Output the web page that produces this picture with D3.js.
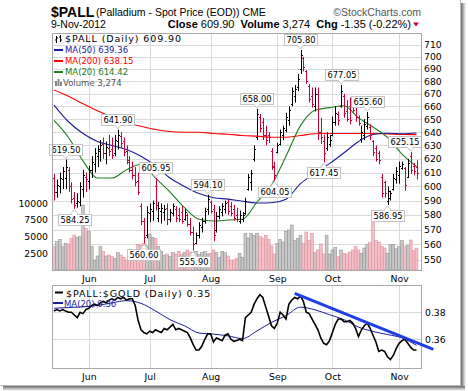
<!DOCTYPE html>
<html>
<head>
<meta charset="utf-8">
<script src="https://cdn.jsdelivr.net/npm/d3@7"></script>
<style>
    body { margin: 0; background: #fff; }
    svg text { font-family: "DejaVu Sans", Verdana, sans-serif; }
    .hdr { font-family: "Liberation Sans", Arial, sans-serif !important; }
</style>
</head>
<body>
<div id="chart"></div>
<script>
// ---- data (one entry per trading day, 15-May-2012 .. 9-Nov-2012) ----
const opens = [606,596,600,605,606,612,600,592,588,589,598,607,604,612,616,622,626,631,624,628,
    627,624,633,637,633,626,618,612,608,604,586,576,566,581,583,600,578,583,582,585,
    577,581,584,580,582,577,580,574,568,561,566,572,576,584,589,584,570,579,582,584,
    589,586,584,580,576,577,581,598,603,620,636,652,648,638,638,626,614,625,631,638,
    642,649,662,668,675,690,699,688,676,668,660,670,640,633,628,631,638,648,654,660,
    668,656,660,662,660,652,635,638,645,644,633,628,624,607,603,590,592,598,605,608,
    613,613,607,622,615,614];
const highs = [609,605,610,614,619.5,614,603,596,595,603,612,610,615,622,628,630,634,636,633,638,
    636,638,641.9,640,636,630,622,618,614,610,588,578,586,588,590,605.95,589,588,587,588,
    584,588,586,585,586,584,581,578,572,568,575,578,585,594.1,590,587,582,586,588,590,
    591,589,587,585,583,582,592,609,612,630,658,654,651,645,640,628,618,632,642,645,
    655,660,675,677,686,705.8,700,689,678,675,675,675,651,638,640,638,652,660,656,677.05,
    670,665,667,665,665,653,645,650,655.6,646,634,630,626,609,604,600,597,609,614,618,
    618,614,620,625.15,617,619];
const lows = [590,592,595,598,598,596,588,584.25,585,586,592,596,598,606,610,614,618,620,616,622,
    620,622,627,628,622,616,610,605,600,594,573,560.6,564,575,576,583,575,574,576,573,
    575,579,575,575,574,576,572,566,555.9,560,564,568,574,580,581,562,568,577,579,581,
    580,579,576,575,574,575,580,597,597,618,634,640,634,630,632,612,604.05,624,630,634,
    640,645,660,663,672,686,688,678,663,659,656,634,631,617.45,626,629,637,645,645,659,
    651,648,646,655,648,645,632,634,642,634,622,618,616,592,592,586.95,590,597,602,602,
    612,597,606,609,608,605];
const closes = [596,601,606,611,614,600,591,587,590,600,608,605,612,618,624,627,630,624,629,626,
    623,634,638,632,625,619,612,608,603,596,576,565,582,584,588,587,585,585,584,577,
    582,586,578,577,576,582,574,568,560,566,573,576,583,591,583,566,579,584,586,588,
    583,581,578,577,580,580,590,607,610,627,654,643,638,634,636,615,608,630,640,643,
    652,657,672,674,682,702,692,680,666,662,670,640,636,624,636,634,648,655,649,672,
    655,650,649,657,652,647,640,646,652,638,625,620,619,595,595,597,595,606,611,615,
    616,601,617,612,611,609.9];
const volumes = [3500,4250,4600,3500,4000,3900,4750,5250,4900,5000,9750,6250,5750,3500,1500,2100,3500,2750,2100,2250,
    2000,1750,2600,2250,1900,1500,2100,2000,2300,3800,3750,4000,3600,5400,4900,4750,3500,2800,2200,2400,
    2000,2600,2400,2800,2300,2600,3000,2700,2500,2800,2300,2600,2800,2400,2500,3000,2600,1900,2800,2600,
    2100,1500,1500,1700,2500,1900,5500,4800,5500,5200,5500,5000,4800,5200,4600,3600,2400,4000,4600,4200,
    5800,6000,6750,4400,4700,5200,4000,5700,4400,5500,2600,3000,3900,2400,5200,2400,3000,3400,2000,3000,
    2500,2400,2700,3000,3500,3000,2500,3300,3800,4100,7300,4400,4200,3500,3300,2500,3800,3800,3200,3500,
    4400,3500,3700,4500,2900,3274];
// $PALL:$GOLD ratio
const ratio = [0.381,0.382,0.381,0.382,0.381,0.380,0.380,0.378,0.376,0.380,0.379,0.382,0.383,0.385,0.386,0.385,0.387,0.388,0.387,0.389,
    0.390,0.389,0.391,0.390,0.391,0.389,0.390,0.390,0.385,0.374,0.367,0.365,0.364,0.366,0.365,0.367,0.366,0.365,0.368,0.367,
    0.369,0.371,0.367,0.368,0.367,0.366,0.365,0.361,0.356,0.352,0.352,0.355,0.360,0.364,0.364,0.358,0.361,0.360,0.359,0.363,
    0.364,0.360,0.3585,0.359,0.360,0.359,0.376,0.378,0.380,0.386,0.390,0.393,0.391,0.384,0.377,0.370,0.368,0.372,0.380,0.378,
    0.375,0.386,0.389,0.391,0.390,0.392,0.388,0.380,0.379,0.375,0.371,0.367,0.361,0.357,0.356,0.359,0.365,0.371,0.375,0.375,
    0.373,0.373,0.374,0.372,0.368,0.362,0.367,0.370,0.372,0.368,0.363,0.358,0.351,0.352,0.351,0.347,0.345,0.348,0.353,0.357,
    0.359,0.360,0.357,0.354,0.352,0.352];

// moving averages, sampled every 5 bars
const maIdx = [0,5,10,15,20,25,30,35,40,45,50,55,60,65,70,75,80,85,90,95,100,105,110,115,120,125];
const ma50 = [661,648,639,633,630,627,622,615,606,600,595,592,591,589.5,588.3,588.5,591,602,609.5,616.5,624.5,633,638.3,639.2,638.8,639.36];
const ma200 = [673,668,662,656.5,651.5,647,644.5,642,640.5,640,640,639,638.5,637.5,637,636.2,636.2,637.5,638.8,639,639,639,639,638.7,638.3,638.15];
const ma20 = [649,636,618.5,606,606,612,616,606,596,585,577,575.8,576.5,577,589,601,622,645,657,659,660.5,651,644,636,623.5,614.42];
const ratioMa20 = [0.383,0.3835,0.384,0.385,0.387,0.3886,0.3866,0.381,0.3745,0.370,0.3646,0.3638,0.3625,0.3605,0.3662,0.3725,0.3775,0.3838,0.3818,0.3782,0.3745,0.369,0.3658,0.3635,0.361,0.3555];

// hand-drawn trend line on the ratio panel
const trendIdx = [83, 130.8];
const trendVal = [0.394, 0.3525];

// annotated highs and lows
const calloutIdx = [4,22,35,53,70,85,99,108,123, 7,31,48,76,93,115];
const calloutVal = [619.50,641.90,605.95,594.10,658.00,705.80,677.05,655.60,625.15, 584.25,560.60,555.90,604.05,617.45,586.95];
const calloutHigh = [1,1,1,1,1,1,1,1,1, 0,0,0,0,0,0];

const monthLabels = ['Jun','Jul','Aug','Sep','Oct','Nov'];
const monthStarts = [12,33,54,77,96,119];
const priceTicks = [550,560,570,580,590,600,610,620,630,640,650,660,670,680,690,700,710];
const volTicks = [2500,5000,7500,10000];
const ratioTicks = [0.36,0.38];

const COLORS = {
    up: '#000000',
    down: '#cc0033',
    volUp: '#bebebe', volUpEdge: '#8c8c8c',
    volDown: '#f2b5bd', volDownEdge: '#d98896',
    ma50: '#1c1c9c',
    ma200: '#ff0000',
    ma20: '#1e7d1e',
    grid: '#dadada',
    frame: '#a8a8a8',
    trend: '#1f3fe6'
};

const W = 468, H = 391;
const main = { left: 52, right: 421, top: 33, bottom: 270 };
const lower = { left: 52, right: 421, top: 285, bottom: 368 };

const svg = d3.select('#chart').append('svg')
    .attr('width', W)
    .attr('height', H);

// drop shadow round the picture frame
const defs = svg.append('defs');
const gR = defs.append('linearGradient').attr('id', 'shR');
gR.append('stop').attr('offset', '0').attr('stop-color', '#6a6a6a');
gR.append('stop').attr('offset', '1').attr('stop-color', '#ffffff');
const gB = defs.append('linearGradient').attr('id', 'shB').attr('x1', 0).attr('x2', 0).attr('y1', 0).attr('y2', 1);
gB.append('stop').attr('offset', '0').attr('stop-color', '#6a6a6a');
gB.append('stop').attr('offset', '1').attr('stop-color', '#ffffff');
svg.append('rect').attr('x', 461).attr('y', 3).attr('width', 5).attr('height', 385).attr('fill', 'url(#shR)');
svg.append('rect').attr('x', 3).attr('y', 386).attr('width', 462).attr('height', 5).attr('fill', 'url(#shB)');
svg.append('line').attr('x1', 460.5).attr('x2', 460.5).attr('y1', 0).attr('y2', 386).attr('stroke', '#bbb');
svg.append('line').attr('x1', 0).attr('x2', 461).attr('y1', 385.5).attr('y2', 385.5).attr('stroke', '#bbb');

const x = d3.scaleLinear().domain([0, 125]).range([54, 416.5]);
const y = d3.scaleLog().domain([543.2, 720.2]).range([main.bottom, main.top]);
const yVol = d3.scaleLinear().domain([0, 35550]).range([main.bottom, main.top]);
const yRatio = d3.scaleLinear().domain([0.3387, 0.4002]).range([lower.bottom, lower.top]);

const crisp = v => Math.round(v) + 0.5;

// ---- header ----
svg.append('text').attr('class', 'hdr').attr('x', 51).attr('y', 16.5)
    .attr('font-size', 14).attr('font-weight', 'bold').text('$PALL');
svg.append('text').attr('class', 'hdr').attr('x', 96).attr('y', 15.5)
    .attr('font-size', 10.5).text('(Palladium - Spot Price (EOD))  CME');
svg.append('text').attr('class', 'hdr').attr('x', 421).attr('y', 15.5)
    .attr('font-size', 10.5).attr('fill', '#555').attr('text-anchor', 'end').text('\u00A9StockCharts.com');
svg.append('text').attr('class', 'hdr').attr('x', 51).attr('y', 28)
    .attr('font-size', 10.5).text('9-Nov-2012');

const info = svg.append('text').attr('class', 'hdr').attr('x', 411).attr('y', 28)
    .attr('font-size', 11).attr('text-anchor', 'end');
[['Close', true], [' 609.90  ', false], ['Volume', true], [' 3,274  ', false], ['Chg', true], [' -1.35 (-0.22%)', false]]
    .forEach(([t, b]) => info.append('tspan').attr('font-weight', b ? 'bold' : 'normal').attr('xml:space', 'preserve').text(t));
svg.append('path').attr('d', 'M413,22.5 L419,22.5 L416,26.5 Z').attr('fill', COLORS.down);

// ---- grids ----
function grid(panel, yScale, ticks) {
    const g = svg.append('g');
    g.selectAll('.h').data(ticks).enter().append('line')
        .attr('x1', panel.left).attr('x2', panel.right)
        .attr('y1', d => crisp(yScale(d))).attr('y2', d => crisp(yScale(d)))
        .attr('stroke', COLORS.grid);
    g.selectAll('.v').data(monthStarts).enter().append('line')
        .attr('x1', d => crisp(x(d))).attr('x2', d => crisp(x(d)))
        .attr('y1', panel.top).attr('y2', panel.bottom)
        .attr('stroke', COLORS.grid);
}
grid(main, y, priceTicks);
grid(lower, yRatio, ratioTicks);

// clip paths
defs.append('clipPath').attr('id', 'clipMain').append('rect')
    .attr('x', main.left).attr('y', main.top).attr('width', main.right - main.left).attr('height', main.bottom - main.top);
defs.append('clipPath').attr('id', 'clipLower').append('rect')
    .attr('x', lower.left).attr('y', lower.top).attr('width', lower.right - lower.left).attr('height', lower.bottom - lower.top);

const bars = d3.range(closes.length).map(i => ({
    i: i, o: opens[i], h: highs[i], l: lows[i], c: closes[i], v: volumes[i], down: closes[i] < opens[i]
}));

// ---- volume ----
const mainG = svg.append('g').attr('clip-path', 'url(#clipMain)');
mainG.selectAll('.vol').data(bars).enter().append('rect')
    .attr('x', d => x(d.i) - 1.45)
    .attr('width', 2.9)
    .attr('y', d => yVol(d.v))
    .attr('height', d => main.bottom - yVol(d.v))
    .attr('fill', d => d.down ? COLORS.volDown : COLORS.volUp)
    .attr('fill-opacity', 0.85)
    .attr('stroke', d => d.down ? COLORS.volDownEdge : COLORS.volUpEdge)
    .attr('stroke-width', 0.5);

// ---- moving averages ----
const maLine = d3.line().x(d => x(d[0])).y(d => y(d[1])).curve(d3.curveMonotoneX);
[[ma200, COLORS.ma200], [ma50, COLORS.ma50], [ma20, COLORS.ma20]].forEach(([vals, col]) => {
    mainG.append('path')
        .datum(maIdx.map((d, k) => [d, vals[k]]))
        .attr('d', maLine)
        .attr('fill', 'none')
        .attr('stroke', col)
        .attr('stroke-width', 1.1);
});

// ---- OHLC bars ----
mainG.selectAll('.bar').data(bars).enter().append('path')
    .attr('d', d => {
        const cx = crisp(x(d.i));
        return `M${cx},${y(d.h)}V${y(d.l)}M${cx - 1.5},${crisp(y(d.o))}H${cx}M${cx},${crisp(y(d.c))}H${cx + 1.5}`;
    })
    .attr('fill', 'none')
    .attr('stroke', d => d.down ? COLORS.down : COLORS.up)
    .attr('stroke-width', 1);

// ---- callouts on highs and lows ----
calloutIdx.forEach((idx, k) => {
    const v = calloutVal[k];
    const isHigh = calloutHigh[k] === 1;
    const cx = x(idx), py = y(v);
    const g = svg.append('g');
    const t = g.append('text').attr('font-size', 8.3).attr('text-anchor', 'middle').text(d3.format('.2f')(v));
    const w = t.node().getComputedTextLength() + 4, h = 11;
    const bx = Math.min(cx - w / 2, main.right - w + 0.5);
    const by = isHigh ? py - 5 - h : py + 5;
    const tipY = isHigh ? py - 1 : py + 1;
    const baseY = isHigh ? by + h : by;
    g.insert('path', 'text')
        .attr('d', `M${cx - 3.5},${baseY}L${cx},${tipY}L${cx + 3.5},${baseY}`)
        .attr('fill', '#fff').attr('stroke', '#c4c4c4').attr('stroke-width', 1);
    g.insert('rect', 'text')
        .attr('x', Math.round(bx) + 0.5).attr('y', Math.round(by) + 0.5)
        .attr('width', Math.round(w)).attr('height', h)
        .attr('fill', '#fff').attr('stroke', '#c4c4c4');
    g.insert('path', 'text')
        .attr('d', `M${cx - 2.5},${isHigh ? Math.round(by) + h + 0.5 : Math.round(by) + 0.5}H${cx + 2.5}`)
        .attr('stroke', '#fff').attr('stroke-width', 1.2);
    t.attr('x', Math.round(bx) + 0.5 + Math.round(w) / 2).attr('y', Math.round(by) + 9);
});

// ---- main panel frame and axes ----
svg.append('rect')
    .attr('x', main.left + 0.5).attr('y', main.top + 0.5)
    .attr('width', main.right - main.left).attr('height', main.bottom - main.top)
    .attr('fill', 'none').attr('stroke', COLORS.frame);

const rightAxis = svg.append('g')
    .attr('transform', `translate(${main.right},0)`)
    .call(d3.axisRight(y).tickValues(priceTicks).tickFormat(d3.format('d')).tickSize(0).tickPadding(3));
rightAxis.select('.domain').remove();
rightAxis.selectAll('text').attr('font-size', 9.3).attr('font-family', '"DejaVu Sans"').attr('fill', '#000');

const volAxis = svg.append('g')
    .attr('transform', `translate(${main.left},0)`)
    .call(d3.axisLeft(yVol).tickValues(volTicks).tickFormat(d3.format('d')).tickSize(0).tickPadding(4));
volAxis.select('.domain').remove();
volAxis.selectAll('text').attr('font-size', 9.3).attr('font-family', '"DejaVu Sans"').attr('fill', '#000');

function monthAxis(yPos) {
    const ax = svg.append('g')
        .attr('transform', `translate(0,${yPos})`)
        .call(d3.axisBottom(x).tickValues(monthStarts).tickFormat((d, k) => monthLabels[k]).tickSize(0).tickPadding(5.5));
    ax.select('.domain').remove();
    ax.selectAll('text').attr('font-size', 9.3).attr('font-family', '"DejaVu Sans"').attr('fill', '#000');
}
monthAxis(main.bottom);

// ---- main legend ----
const leg = svg.append('g');
leg.append('path').attr('d', 'M56.5,36V43M55,40H56.5M56.5,38H58M60.5,35V42M59,37H60.5M60.5,40H62')
    .attr('stroke', '#000').attr('fill', 'none');
leg.append('text').attr('x', 65).attr('y', 42).attr('font-size', 9.5).attr('letter-spacing', 0.9)
    .text('$PALL (Daily) 609.90');
[['MA(50) 639.36', COLORS.ma50, 53], ['MA(200) 638.15', COLORS.ma200, 64], ['MA(20) 614.42', COLORS.ma20, 75]]
    .forEach(([t, col, by]) => {
        leg.append('line').attr('x1', 54).attr('x2', 63).attr('y1', by - 3).attr('y2', by - 3)
            .attr('stroke', col).attr('stroke-width', 2);
        leg.append('text').attr('x', 65).attr('y', by).attr('font-size', 8.5).attr('fill', col).text(t);
    });
leg.selectAll('.vi').data([5, 7, 4]).enter().append('rect')
    .attr('x', (d, k) => 55 + k * 2.5).attr('y', d => 86 - d).attr('width', 2).attr('height', d => d)
    .attr('fill', '#888');
leg.append('text').attr('x', 63).attr('y', 86).attr('font-size', 8.5).attr('fill', '#555').text('Volume 3,274');

// ---- lower panel: $PALL:$GOLD ----
const lowerG = svg.append('g').attr('clip-path', 'url(#clipLower)');
lowerG.append('path')
    .datum(maIdx.map((d, k) => [d, ratioMa20[k]]))
    .attr('d', d3.line().x(d => x(d[0])).y(d => yRatio(d[1])).curve(d3.curveMonotoneX))
    .attr('fill', 'none').attr('stroke', COLORS.ma50).attr('stroke-width', 1);
lowerG.append('path')
    .datum(ratio)
    .attr('d', d3.line().x((d, i) => x(i)).y(d => yRatio(d)))
    .attr('fill', 'none').attr('stroke', '#000').attr('stroke-width', 1.6);

svg.append('rect')
    .attr('x', lower.left + 0.5).attr('y', lower.top + 0.5)
    .attr('width', lower.right - lower.left).attr('height', lower.bottom - lower.top)
    .attr('fill', 'none').attr('stroke', COLORS.frame);

svg.append('line')
    .attr('x1', x(trendIdx[0])).attr('y1', yRatio(trendVal[0]))
    .attr('x2', x(trendIdx[1])).attr('y2', yRatio(trendVal[1]))
    .attr('stroke', COLORS.trend).attr('stroke-width', 3);

const ratioAxis = svg.append('g')
    .attr('transform', `translate(${lower.right},0)`)
    .call(d3.axisRight(yRatio).tickValues(ratioTicks).tickFormat(d3.format('.2f')).tickSize(0).tickPadding(4));
ratioAxis.select('.domain').remove();
ratioAxis.selectAll('text').attr('font-size', 9.3).attr('font-family', '"DejaVu Sans"').attr('fill', '#000');
monthAxis(lower.bottom);

const leg2 = svg.append('g');
leg2.append('line').attr('x1', 55).attr('x2', 63).attr('y1', 292.5).attr('y2', 292.5).attr('stroke', '#000').attr('stroke-width', 2);
leg2.append('text').attr('x', 66).attr('y', 296.5).attr('font-size', 9.5).attr('letter-spacing', 0.9)
    .text('$PALL:$GOLD (Daily) 0.35');
leg2.append('line').attr('x1', 53).attr('x2', 63).attr('y1', 303).attr('y2', 303).attr('stroke', COLORS.ma50).attr('stroke-width', 2);
leg2.append('text').attr('x', 64).attr('y', 306.5).attr('font-size', 8.5).attr('fill', COLORS.ma50).text('MA(20) 0.36');
</script>
</body>
</html>
